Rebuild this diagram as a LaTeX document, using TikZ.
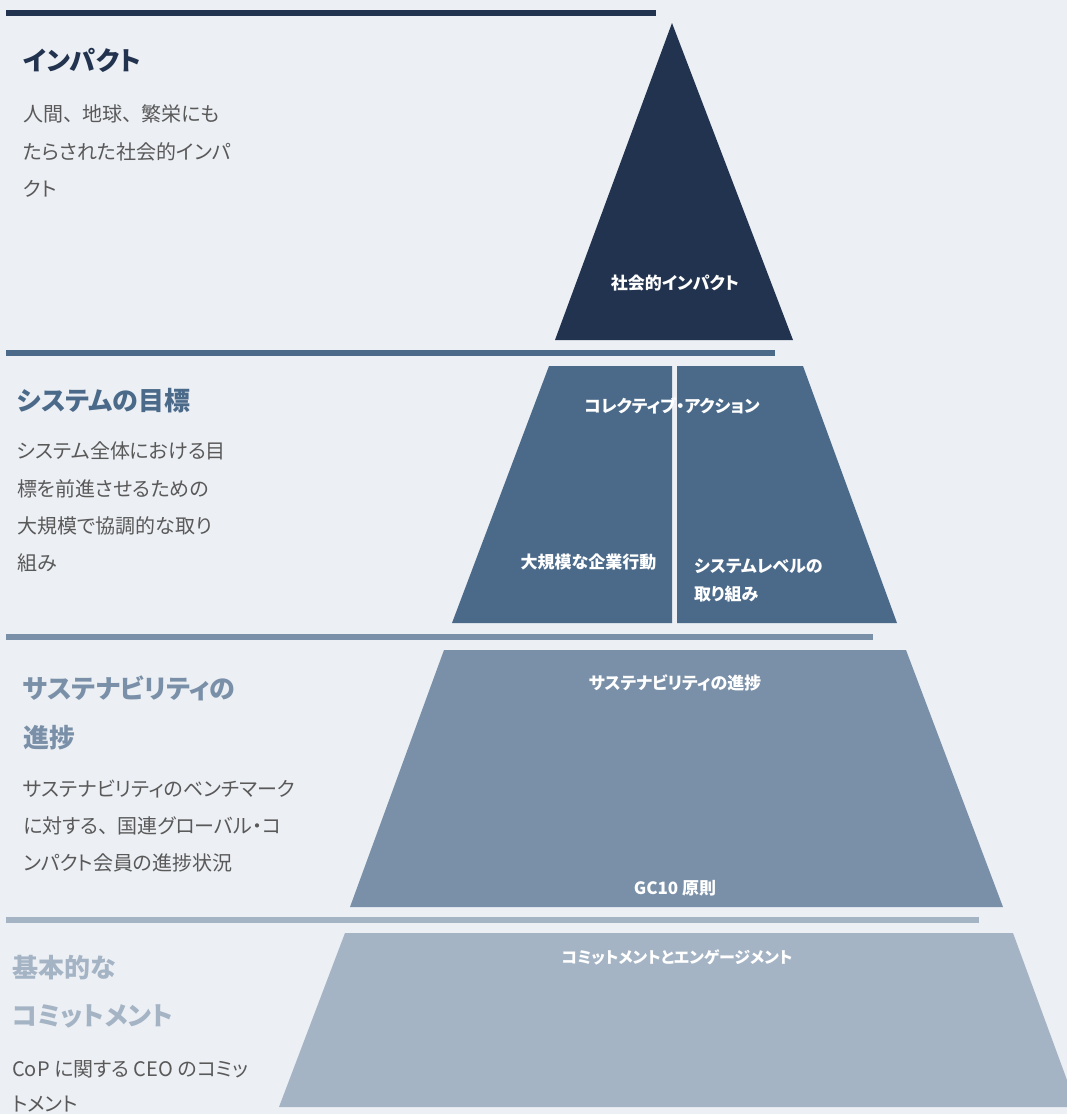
\documentclass[tikz,border=0pt]{standalone}
\usepackage{fontspec}
\setmainfont[RawFeature=+palt]{Noto Sans CJK JP}
\definecolor{bg}{HTML}{ECEFF4}
\definecolor{tone1}{HTML}{22334F}
\definecolor{tone2}{HTML}{4B6A8A}
\definecolor{tone3}{HTML}{7A90A8}
\definecolor{tone4}{HTML}{A5B4C5}
\definecolor{bodygray}{HTML}{595959}
\newcommand{\tten}{、\kern0.45em}
\begin{document}
\begin{tikzpicture}[x=1pt,y=-1pt,
  titletext/.style={font=\fontsize{26}{30}\selectfont\bfseries, anchor=base west, inner sep=0},
  bodytext/.style={font=\fontsize{20}{24}\selectfont, text=bodygray, anchor=base west, inner sep=0},
  tierlabel/.style={font=\fontsize{17}{20}\selectfont\bfseries, text=white, anchor=base, inner sep=0}]
\fill[bg] (0,0) rectangle (1067,1114);
\useasboundingbox (0,0) rectangle (1067,1114);

% bars
\fill[tone1] (6,10) rectangle (656,16);
\fill[tone2] (6,350) rectangle (775,356);
\fill[tone3] (6,634) rectangle (873,640);
\fill[tone4] (6,917) rectangle (979,923);

% pyramid tiers
\fill[tone1] (672,23) -- (793,340) -- (555,340) -- cycle;
\fill[tone2] (549,366) -- (672,366) -- (672,623) -- (452,623) -- cycle;
\fill[tone2] (677,366) -- (803,366) -- (897,623) -- (677,623) -- cycle;
\fill[tone3] (444,650) -- (906,650) -- (1003,907) -- (350,907) -- cycle;
\fill[tone4] (345,933) -- (1013,933) -- (1067,1080) -- (1067,1107) -- (279,1107) -- cycle;

% pyramid labels
\node[tierlabel] (l1) at (675,289.5) {社会的インパクト};
\node[tierlabel] (l2a) at (672,412.5) {コレクティブ・アクション};
\node[tierlabel] (l2b) at (588.5,568.5) {大規模な企業行動};
\node[tierlabel, anchor=base west] (l2c) at (694,572.5) {システムレベルの};
\node[tierlabel, anchor=base west] (l2d) at (694,600.5) {取り組み};
\node[tierlabel] (l3a) at (675,689.5) {サステナビリティの進捗};
\node[tierlabel] (l3b) at (675,894.5) {GC10 原則};
\node[tierlabel, font=\fontsize{16}{20}\selectfont\bfseries] (l4a) at (677,963) {コミットメントとエンゲージメント};

% left texts tier 1
\node[titletext, text=tone1] (t1) at (23,70) {インパクト};
\node[bodytext] (b1a) at (23,121) {人間\tten 地球\tten 繁栄にも};
\node[bodytext] (b1b) at (23,159) {たらされた社会的インパ};
\node[bodytext] (b1c) at (23,196) {クト};

% tier 2
\node[titletext, text=tone2] (t2) at (17,410) {システムの目標};
\node[bodytext] (b2a) at (17,458) {システム全体における目};
\node[bodytext] (b2b) at (17,496) {標を前進させるための};
\node[bodytext] (b2c) at (17,533) {大規模で協調的な取り};
\node[bodytext] (b2d) at (17,570) {組み};

% tier 3
\node[titletext, text=tone3] (t3a) at (23,698) {サステナビリティの};
\node[titletext, text=tone3] (t3b) at (23,747) {進捗};
\node[bodytext] (b3a) at (23,796) {サステナビリティのベンチマーク};
\node[bodytext] (b3b) at (23,833) {に対する\tten 国連グローバル・コ};
\node[bodytext] (b3c) at (23,870) {ンパクト会員の進捗状況};

% tier 4
\node[titletext, text=tone4] (t4a) at (12,977) {基本的な};
\node[titletext, text=tone4] (t4b) at (12,1025) {コミットメント};
\node[bodytext] (b4a) at (12,1076) {CoP に関する CEO のコミッ};
\node[bodytext] (b4b) at (12,1111) {トメント};
\end{tikzpicture}
\end{document}
